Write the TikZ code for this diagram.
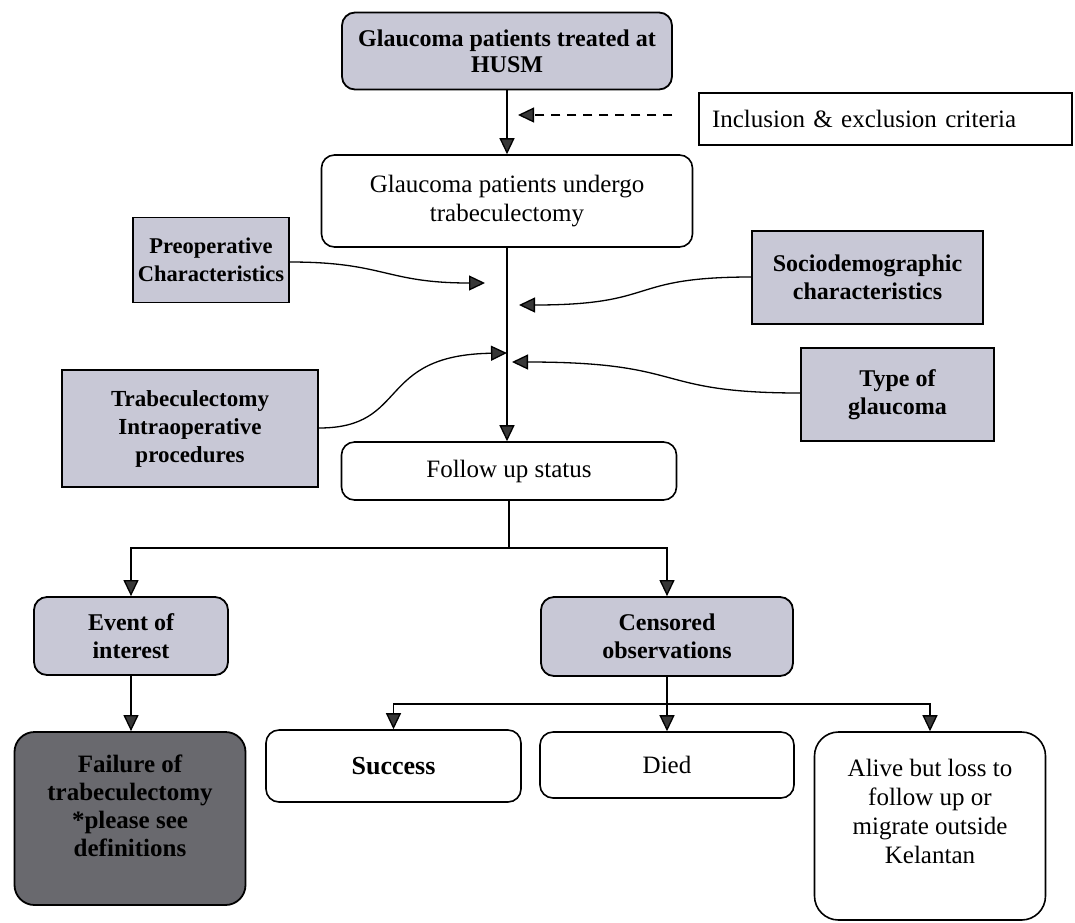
\documentclass[tikz,border=0pt]{standalone}
\usepackage{fontspec}
\setmainfont{Liberation Serif}
\usetikzlibrary{arrows.meta}
\definecolor{lav}{RGB}{200,200,214}
\definecolor{darkfill}{RGB}{105,105,110}
\definecolor{tipc}{RGB}{55,55,55}
\tikzset{
  base/.style={draw=black, line width=1.8pt, align=center, inner sep=2pt},
  greybox/.style={base, fill=lav, font=\fontsize{24}{28}\selectfont\bfseries},
  whitebox/.style={base, line width=1.6pt, fill=white, font=\fontsize{25}{29}\selectfont},
  rnd/.style={rounded corners=13pt},
  plain/.style={line width=1.3pt, draw=black},
  conn/.style={plain, -{Triangle[length=16pt,width=15pt,fill=tipc]}},
  btext/.style={align=center, inner sep=0pt},
}
\begin{document}
\begin{tikzpicture}[x=1pt,y=-1pt]
\fill[white] (0,0) rectangle (1075,922);
\useasboundingbox (0,0) rectangle (1075,922);

% nodes
\node[greybox,rnd,minimum width=330pt,minimum height=77pt,font=\fontsize{24}{26}\selectfont\bfseries] (husm) at (507,51) {Glaucoma patients treated at\\HUSM};
\node[whitebox,inner xsep=13pt,text width=347pt,align=left,minimum height=52pt,line width=1.3pt] (incl) at (885.5,119) {Inclusion \& exclusion criteria};
\node[whitebox,rnd,minimum width=371pt,minimum height=92pt] (undergo) at (507,201) {Glaucoma patients undergo\\trabeculectomy};
\node[greybox,minimum width=156pt,minimum height=85pt,font=\fontsize{22.5}{28}\selectfont\bfseries] (preop) at (211,260) {Preoperative\\Characteristics};
\node[greybox,minimum width=231pt,minimum height=93pt] (socio) at (867.5,277.5) {Sociodemographic\\characteristics};
\node[greybox,minimum width=193pt,minimum height=93pt] (type) at (897.5,394.5) {Type of\\glaucoma};
\node[greybox,minimum width=256pt,minimum height=117pt,font=\fontsize{23}{28}\selectfont\bfseries] (trab) at (190,428.5) {Trabeculectomy\\Intraoperative\\procedures};
\node[whitebox,rnd,minimum width=335pt,minimum height=58pt] (follow) at (509,471) {Follow up status};
\node[greybox,rnd,minimum width=194pt,minimum height=78pt] (event) at (131,636) {Event of\\interest};
\node[greybox,rnd,minimum width=252pt,minimum height=79pt] (cens) at (667,636.5) {Censored\\observations};
\node[greybox,rnd,fill=darkfill,minimum width=231pt,minimum height=173pt,rounded corners=20pt] (failure) at (130,818.5) {};
\node[btext,font=\fontsize{25}{28}\selectfont\bfseries] (failtxt) at (130,806) {Failure of\\trabeculectomy\\*please see\\definitions};
\node[whitebox,rnd,minimum width=255pt,minimum height=72pt,font=\fontsize{26}{29}\selectfont\bfseries] (success) at (393.5,766) {Success};
\node[whitebox,rnd,minimum width=254pt,minimum height=66pt] (died) at (667,765) {Died};
\node[whitebox,rnd,minimum width=231pt,minimum height=188pt,rounded corners=24pt] (alive) at (930,826) {};
\node[btext,font=\fontsize{25}{29}\selectfont] (alivetxt) at (930,811) {Alive but loss to\\follow up or\\migrate outside\\Kelantan};

% coordinates for free ends
\coordinate (dtip) at (518,115);
\coordinate (pretip) at (485,283);
\coordinate (soctip) at (519,305);
\coordinate (trtip) at (507,353);
\coordinate (typtip) at (512,362);
\coordinate (b1) at (509,548);
\coordinate (b2) at (667,704);

% main connectors
\draw[conn] (husm.south) -- (husm.south |- undergo.north);
\draw[conn,dash pattern=on 9pt off 7pt] ([xshift=-26pt,yshift=4pt]incl.west) -- (dtip);
\draw[conn] (undergo.south) -- (undergo.south |- follow.north);

% side influences
\draw[conn] (preop.east |- 0,262) .. controls (385,262) and (385,283) .. (pretip);
\draw[conn] (socio.west |- 0,277) .. controls (625,277) and (660,305) .. (soctip);
\draw[conn] (type.west |- 0,393) .. controls (650,393) and (690,362) .. (typtip);
\draw[conn] (trab.east |- 0,428) .. controls (410,428) and (375,355) .. (trtip);

% branching
\draw[plain] (follow.south) -- (b1);
\draw[conn] (b1) -| (event.north);
\draw[conn] (b1) -| (cens.north);
\draw[conn] (event.south) -- (event.south |- failure.north);
\draw[plain] (cens.south) -- (b2);
\draw[conn] (b2) -| (success.north);
\draw[conn] (b2) -- (died.north);
\draw[conn] (b2) -| (alive.north);
\end{tikzpicture}
\end{document}
